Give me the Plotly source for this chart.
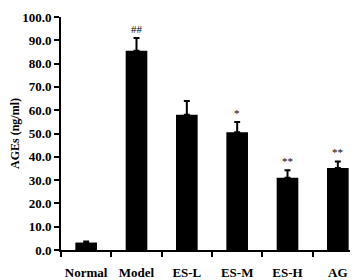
import plotly.graph_objects as go

categories = ["Normal", "Model", "ES-L", "ES-M", "ES-H", "AG"]
values = [3.2, 85.5, 58.0, 50.5, 31.0, 35.2]
errors = [0.4, 5.5, 6.0, 4.4, 3.2, 2.8]
marks = ["", "##", "", "*", "**", "**"]
y_ticks = [0, 10, 20, 30, 40, 50, 60, 70, 80, 90, 100]

font_family = "Liberation Serif, Times New Roman, serif"

fig = go.Figure()
fig.add_trace(go.Bar(
    x=categories, y=values, width=0.43,
    marker=dict(color="black", line=dict(width=0)),
    error_y=dict(type="data", symmetric=False, array=errors,
                 arrayminus=[0] * len(errors), color="black",
                 thickness=2, width=3),
))

for c, v, e, m in zip(categories, values, errors, marks):
    if m:
        fig.add_annotation(x=c, y=v + e, text=m, showarrow=False,
                           yanchor="bottom", yshift=1,
                           font=dict(family=font_family, size=11, color="black"))

fig.update_layout(
    width=358, height=280,
    margin=dict(l=53, r=3, t=9, b=38, autoexpand=False),
    paper_bgcolor="white", plot_bgcolor="white",
    showlegend=False,
    font=dict(family=font_family, color="black"),
    bargap=0.57,
)
fig.update_xaxes(
    showline=True, linecolor="black", linewidth=2,
    ticks="outside", tickson="boundaries", ticklen=5, tickwidth=2, tickcolor="black",
    tickangle=0, automargin=False, ticklabelstandoff=9,
    tickfont=dict(family=font_family, size=13, color="black", weight="bold"),
    showgrid=False, zeroline=False,
)
fig.update_yaxes(
    range=[0, 100], tickvals=y_ticks, tickformat=".1f",
    showline=True, linecolor="black", linewidth=2,
    ticks="outside", ticklen=5, tickwidth=2, tickcolor="black",
    automargin=False,
    tickfont=dict(family=font_family, size=13, color="black", weight="bold"),
    showgrid=False, zeroline=False,
    title=dict(text="AGEs (ng/ml)", standoff=8,
               font=dict(family=font_family, size=12, color="black", weight="bold")),
)

fig.write_html("out.html")
